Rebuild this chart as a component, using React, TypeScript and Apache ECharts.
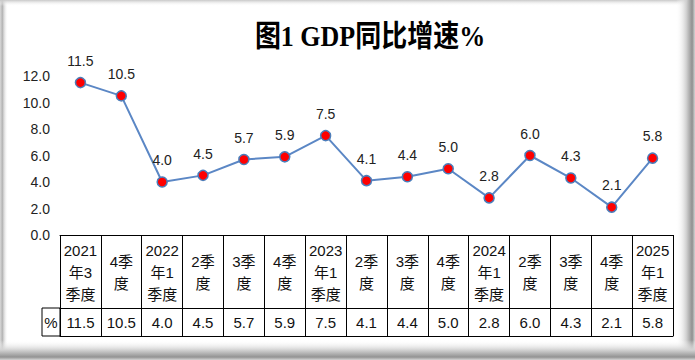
import React, { useEffect, useRef } from "react";
import * as echarts from "echarts";

const categories = [
  "2021\n年3\n季度", "4季\n度", "2022\n年1\n季度", "2季\n度", "3季\n度", "4季\n度",
  "2023\n年1\n季度", "2季\n度", "3季\n度", "4季\n度", "2024\n年1\n季度", "2季\n度",
  "3季\n度", "4季\n度", "2025\n年1\n季度",
];
const growth = [11.5, 10.5, 4.0, 4.5, 5.7, 5.9, 7.5, 4.1, 4.4, 5.0, 2.8, 6.0, 4.3, 2.1, 5.8];
const yTicks = { min: 0, max: 12, interval: 2 };
const title = "图1 GDP同比增速%";
const rowLabel = "%";

const NUM_FONT = "'Liberation Sans', 'Noto Sans CJK SC', sans-serif";
const CELL_FONT = "'Liberation Sans', 'Noto Sans CJK SC', sans-serif";

export default function App() {
  const ref = useRef<HTMLDivElement>(null);
  useEffect(() => {
    if (!ref.current) return;
    const chart = echarts.init(ref.current, null, { renderer: "svg" });
    const valueLabels = growth.map((v) => v.toFixed(1));
    const fade = (stops: [number, string][], horizontal: boolean) =>
      new echarts.graphic.LinearGradient(0, 0, horizontal ? 1 : 0, horizontal ? 0 : 1,
        stops.map(([offset, color]) => ({ offset, color })));
    chart.setOption({
      animation: false,
      backgroundColor: "#ffffff",
      grid: { left: 60, right: 22, top: 76, bottom: 125, containLabel: false },
      xAxis: [
        {
          type: "category",
          data: categories,
          position: "bottom",
          boundaryGap: true,
          axisLine: { show: true, lineStyle: { color: "#000", width: 1 } },
          axisTick: { show: true, interval: 0, length: 101, lineStyle: { color: "#000", width: 1 } },
          axisLabel: {
            interval: 0,
            margin: 37,
            verticalAlign: "middle",
            lineHeight: 22,
            fontSize: 15,
            fontFamily: CELL_FONT,
            color: "#111",
          },
          splitLine: { show: false },
        },
        {
          type: "category",
          data: valueLabels,
          position: "bottom",
          offset: 73,
          axisLine: { show: true, lineStyle: { color: "#000", width: 1 } },
          axisTick: { show: false },
          axisLabel: {
            interval: 0,
            margin: 14,
            verticalAlign: "middle",
            fontSize: 15,
            fontFamily: CELL_FONT,
            color: "#111",
          },
        },
        {
          type: "category",
          data: categories,
          position: "bottom",
          offset: 101,
          axisLine: { show: true, lineStyle: { color: "#000", width: 1 } },
          axisTick: { show: false },
          axisLabel: { show: false },
        },
      ],
      yAxis: {
        type: "value",
        min: yTicks.min,
        max: yTicks.max,
        interval: yTicks.interval,
        axisLine: { show: false },
        axisTick: { show: false },
        splitLine: { show: false },
        axisLabel: {
          margin: 10,
          fontSize: 14,
          fontFamily: NUM_FONT,
          color: "#222",
          formatter: (v: number) => v.toFixed(1),
        },
      },
      series: [
        {
          type: "line",
          xAxisIndex: 0,
          data: growth,
          symbol: "circle",
          symbolSize: 10,
          lineStyle: { color: "#5b87c5", width: 2 },
          itemStyle: { color: "#ff0000", borderColor: "#4a7ebb", borderWidth: 1.5 },
          label: {
            show: true,
            position: "top",
            distance: 9,
            fontSize: 14,
            fontFamily: NUM_FONT,
            color: "#222",
            formatter: (p: any) => Number(p.value).toFixed(1),
          },
        },
      ],
      graphic: [
        {
          type: "text",
          x: 370,
          y: 36,
          scaleY: 1.15,
          style: {
            text: title,
            align: "center",
            verticalAlign: "middle",
            fontFamily: "'Liberation Serif', 'Noto Sans CJK SC', serif",
            fontWeight: "bold",
            fontSize: 26,
            fill: "#000",
          },
          z: 10,
        },
        {
          type: "rect",
          shape: { x: 42, y: 308, width: 18, height: 28 },
          style: { fill: "none", stroke: "#000", lineWidth: 1 },
          z: 10,
        },
        {
          type: "text",
          x: 51,
          y: 322,
          style: {
            text: rowLabel,
            align: "center",
            verticalAlign: "middle",
            fontSize: 15,
            fontFamily: CELL_FONT,
            fill: "#111",
          },
          z: 10,
        },
        {
          type: "rect",
          shape: { x: 0, y: 0, width: 8, height: 360 },
          style: { fill: fade([[0, "#d8d8d8"], [0.3, "#b4b4b4"], [1, "rgba(255,255,255,0)"]], true) },
          z: 20,
          silent: true,
        },
        {
          type: "rect",
          shape: { x: 0, y: 0, width: 695, height: 6 },
          style: { fill: fade([[0, "#c8c8c8"], [1, "rgba(255,255,255,0)"]], false) },
          z: 20,
          silent: true,
        },
        {
          type: "rect",
          shape: { x: 676, y: 0, width: 19, height: 360 },
          style: {
            fill: fade([[0, "rgba(255,255,255,0)"], [0.55, "#cfcfcf"], [0.85, "#8f8f8f"], [1, "#d4d4d4"]], true),
          },
          z: 20,
          silent: true,
        },
        {
          type: "rect",
          shape: { x: 0, y: 340, width: 695, height: 20 },
          style: {
            fill: fade([[0, "rgba(255,255,255,0)"], [0.5, "#d2d2d2"], [0.85, "#939393"], [1, "#d4d4d4"]], false),
          },
          z: 20,
          silent: true,
        },
      ],
    });
    return () => chart.dispose();
  }, []);
  return (
    <div
      ref={ref}
      style={{ position: "absolute", left: 0, top: 0, width: 695, height: 360 }}
    />
  );
}
